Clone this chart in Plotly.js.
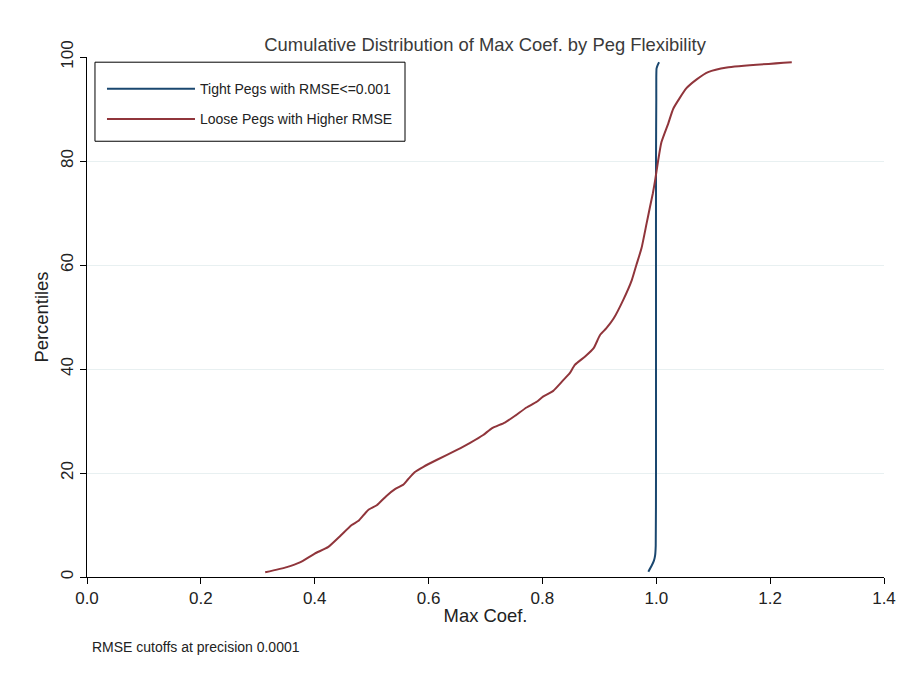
<!DOCTYPE html>
<html>
<head>
<meta charset="utf-8">
<script src="https://cdn.plot.ly/plotly-3.0.1.min.js"></script>
<style>html,body{margin:0;padding:0;background:#fff;}#chart{width:905px;height:677px;}</style>
</head>
<body>
<div id="chart"></div>
<script>
// Tight pegs (RMSE <= 0.001)
const tightX = [0.986, 0.992, 0.996, 0.998, 0.999, 0.9995, 0.9995, 0.9995, 1.0, 1.0, 1.0005, 1.003, 1.005];
const tightY = [1, 2.2, 3.2, 4.2, 6, 20, 50, 80, 92, 96, 97.8, 98.6, 99];
// Loose pegs with higher RMSE
const looseX = [0.313, 0.351, 0.374, 0.400, 0.424, 0.444, 0.465, 0.477, 0.494, 0.509, 0.526, 0.541, 0.556, 0.564, 0.576, 0.591, 0.614, 0.649, 0.673, 0.696, 0.711, 0.734, 0.752, 0.772, 0.790, 0.801, 0.819, 0.837, 0.848, 0.857, 0.875, 0.890, 0.901, 0.912, 0.925, 0.942, 0.957, 0.965, 0.974, 0.983, 0.989, 0.994, 0.998, 1.003, 1.009, 1.021, 1.030, 1.053, 1.071, 1.091, 1.124, 1.238];
const looseY = [0.9, 1.9, 2.8, 4.5, 5.8, 7.8, 10.0, 10.8, 12.9, 13.8, 15.6, 16.9, 17.8, 18.8, 20.2, 21.2, 22.5, 24.4, 25.8, 27.3, 28.6, 29.7, 31.0, 32.6, 33.7, 34.7, 35.8, 37.9, 39.2, 40.8, 42.4, 44.0, 46.5, 47.8, 49.7, 53.3, 57.1, 60.0, 63.2, 68.0, 71.2, 73.8, 76.3, 79.9, 83.6, 87.2, 90.1, 94.0, 95.7, 97.1, 98.0, 99.0];
const xTicks = [0, 0.2, 0.4, 0.6, 0.8, 1.0, 1.2, 1.4];
const yTicks = [0, 20, 40, 60, 80, 100];
const names = ["Tight Pegs with RMSE<=0.001", "Loose Pegs with Higher RMSE"];

const FONT = "Liberation Sans, Arial, sans-serif";

const traces = [
  {x: tightX, y: tightY, type: "scatter", mode: "lines", name: names[0], legendgroup: "a",
   line: {color: "#1a476f", width: 2, shape: "spline", smoothing: 0.5}},
  {x: looseX, y: looseY, type: "scatter", mode: "lines", name: names[1], legendgroup: "b",
   line: {color: "#90353b", width: 2, shape: "spline", smoothing: 0.5}}
];

const layout = {
  width: 905, height: 677,
  paper_bgcolor: "#ffffff", plot_bgcolor: "#ffffff",
  margin: {l: 87, r: 21, t: 57, b: 100},
  font: {family: FONT, color: "#222", size: 17},
  title: {text: "Cumulative Distribution of Max Coef. by Peg Flexibility",
          font: {family: FONT, size: 18.4, color: "#3a3a3a"}, x: 0.536, xanchor: "center", y: 0.934, yanchor: "middle"},
  xaxis: {range: [0, 1.4], tickvals: xTicks, tickformat: ".1f", showgrid: false, zeroline: false,
          showline: true, linecolor: "#000", linewidth: 1, ticks: "outside", ticklen: 6, tickcolor: "#000",
          tickfont: {size: 17, color: "#222"},
          title: {text: "Max Coef.", font: {size: 18.4, color: "#222"}, standoff: 1}},
  yaxis: {range: [0, 100], tickvals: yTicks, showgrid: true, gridcolor: "#e8f0f1", gridwidth: 1, zeroline: false,
          showline: true, linecolor: "#000", linewidth: 1, ticks: "outside", ticklen: 6, tickcolor: "#000",
          tickangle: -90, tickfont: {size: 17, color: "#222"},
          title: {text: "Percentiles", font: {size: 18.4, color: "#222"}, standoff: 4}},
  showlegend: true,
  legend: {x: 0.0188, y: 0.969, xanchor: "left", yanchor: "top", bgcolor: "rgba(0,0,0,0)",
           borderwidth: 0, font: {size: 14, color: "#222"},
           itemwidth: 88, tracegroupgap: 9, traceorder: "grouped"},
  shapes: [
    {type: "rect", xref: "paper", yref: "paper", x0: 0.01, x1: 0.399, y0: 0.838, y1: 0.990,
     line: {color: "#000", width: 1}, fillcolor: "#fff", layer: "below"}
  ],
  annotations: [
    {text: "RMSE cutoffs at precision 0.0001", xref: "paper", yref: "paper",
     x: 0.004, y: -0.135, xanchor: "left", yanchor: "middle", showarrow: false,
     font: {size: 14, color: "#222", family: FONT}}
  ]
};

Plotly.newPlot("chart", traces, layout, {displayModeBar: false});
</script>
</body>
</html>
